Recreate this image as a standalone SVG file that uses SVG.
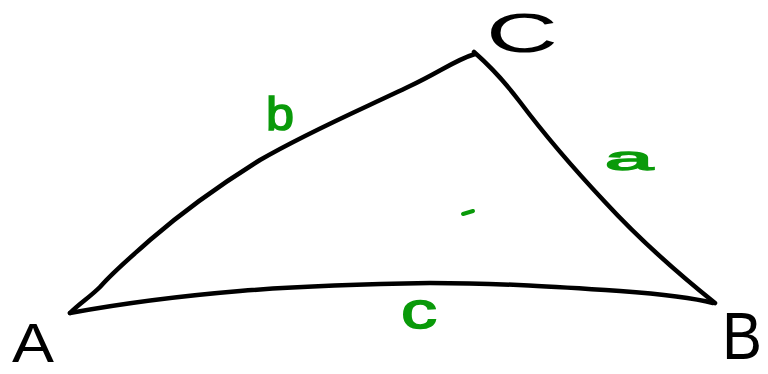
<svg xmlns="http://www.w3.org/2000/svg" width="768" height="374" viewBox="0 0 768 374">
<style>
.edge{fill:none;stroke:#000;stroke-width:4.5;stroke-linecap:round;stroke-linejoin:round}
.vl{font-family:"Liberation Sans",Arial,sans-serif;fill:#000}
.sl{font-family:"Liberation Sans",Arial,sans-serif;fill:#0a9a0a;stroke:#0a9a0a;stroke-width:1.5}
</style>
<rect width="768" height="374" fill="#fff"/>
<g id="connectors">
<path class="edge" d="M70,313 C80,303 90,297 100,287 C115,270 130,258 150,240 C180,214 215,188 260,160 C310,131 360,110 410,86 C440,72 455,60 475,54"/>
<path class="edge" d="M474,52 C490,66 505,82 520,102 C550,142 575,170 605,202 C640,240 680,275 715,303"/>
<path class="edge" d="M713,303 C690,297 660,294 620,291 C560,287 500,283 430,283 C360,284 300,286 240,291 C180,296 130,302 70,313"/>
<path d="M463,214 L473,211" fill="none" stroke="#0a9a0a" stroke-width="4" stroke-linecap="round"/>
</g>
<g id="node-A"><text class="vl" x="12" y="362" font-size="56" textLength="42" lengthAdjust="spacingAndGlyphs">A</text></g>
<g id="node-B"><text class="vl" x="722" y="359" font-size="66" textLength="40" lengthAdjust="spacingAndGlyphs">B</text></g>
<g id="node-C"><text class="vl" x="486" y="52" font-size="56" textLength="72" lengthAdjust="spacingAndGlyphs">C</text></g>
<g id="label-b"><text class="sl" x="266" y="130" font-size="46" textLength="28" lengthAdjust="spacingAndGlyphs">b</text></g>
<g id="label-a"><text class="sl" x="605" y="170" font-size="34" textLength="48" lengthAdjust="spacingAndGlyphs">a</text></g>
<g id="label-c"><text class="sl" x="401" y="328" font-size="52" textLength="36" lengthAdjust="spacingAndGlyphs">c</text></g>
</svg>
